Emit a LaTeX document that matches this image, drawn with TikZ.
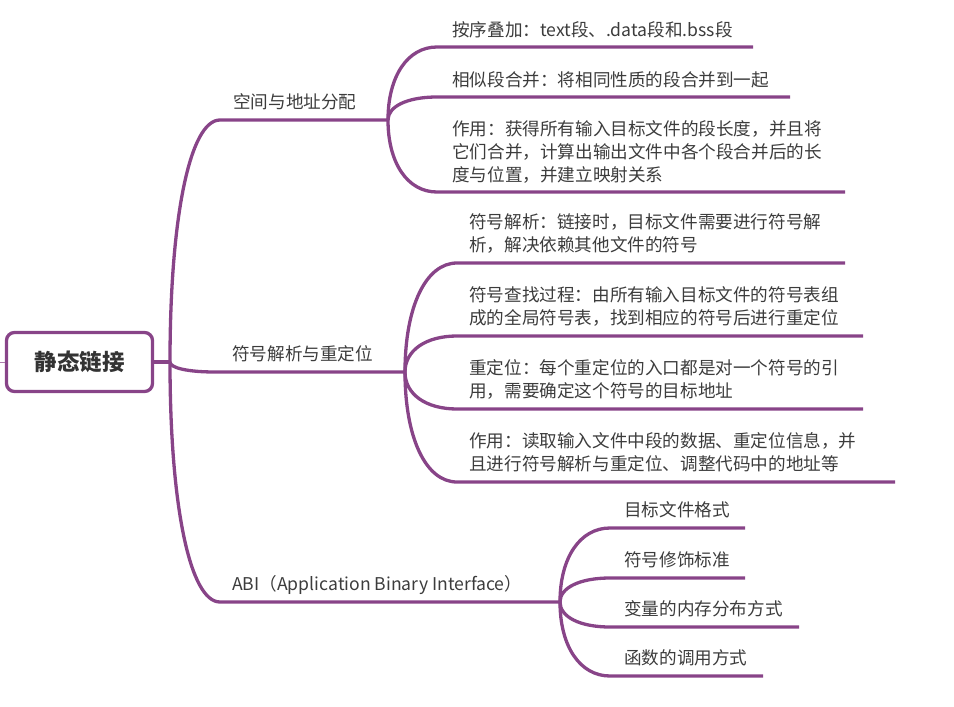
\documentclass[tikz,border=0pt]{standalone}
\usepackage{fontspec}
\setmainfont{Noto Sans CJK SC}
\usetikzlibrary{calc}
\definecolor{mapline}{RGB}{136,68,136}
\definecolor{maptext}{RGB}{60,60,60}
\tikzset{
  edge/.style={draw=mapline, line width=3.3pt},
  link/.style={to path={.. controls ($(\tikztostart)!0.6!(\tikztostart|-\tikztotarget)$) and ($(\tikztotarget)!0.6!(\tikztotarget-|\tikztostart)$) .. (\tikztotarget)}},
  topic/.style={anchor=base west, inner sep=0pt, align=left, text=maptext, font=\fontsize{17.6}{23}\selectfont},
  rootbox/.style={draw=mapline, line width=3.3pt, rounded corners=8pt, minimum width=146pt, minimum height=59pt, inner sep=0pt, text=black!80, font=\fontsize{22.5}{26}\selectfont\bfseries}
}
\begin{document}
\begin{tikzpicture}[x=1pt,y=-1pt]
\useasboundingbox (0,0) rectangle (954,707);
% root
\node[rootbox] (root) at (79.5,362) {静态链接};
\coordinate (stub) at (0,362);
\coordinate (hub) at (170,362);
\draw[draw=mapline!70, line width=1pt] (stub) -- (root.west);
\draw[edge] (root.east) -- (hub);
% main branches
\node[topic] (b1) at (233,108) {空间与地址分配};
\node[topic] (b2) at (232,360) {符号解析与重定位};
\node[topic] (b3) at (232,590) {ABI（Application Binary Interface）};
\coordinate (u1) at (220,120);  \coordinate (fork1) at (388,120);
\coordinate (u2) at (215,372);  \coordinate (fork2) at (405,372);
\coordinate (u3) at (220,602);  \coordinate (fork3) at (560,602);
\draw[edge] (hub) to[link] (u1) -- (fork1);
\draw[edge] (hub) to[link] (u2) -- (fork2);
\draw[edge] (hub) to[link] (u3) -- (fork3);
% space and address
\node[topic] (l11) at (452,36) {按序叠加：text段、.data段和.bss段};
\node[topic] (l12) at (452,86) {相似段合并：将相同性质的段合并到一起};
\node[topic] (l13) at (452,181) {作用：获得所有输入目标文件的段长度，并且将\\它们合并，计算出输出文件中各个段合并后的长\\度与位置，并建立映射关系};
\coordinate (u11) at (437,47);  \coordinate (e11) at (753,47);
\coordinate (u12) at (437,97);  \coordinate (e12) at (790,97);
\coordinate (u13) at (437,192); \coordinate (e13) at (845,192);
\draw[edge] (fork1) to[link] (u11) -- (e11);
\draw[edge] (fork1) to[link] (u12) -- (e12);
\draw[edge] (fork1) to[link] (u13) -- (e13);
% symbols and relocation
\node[topic] (l21) at (469,251) {符号解析：链接时，目标文件需要进行符号解\\析，解决依赖其他文件的符号};
\node[topic] (l22) at (469,324) {符号查找过程：由所有输入目标文件的符号表组\\成的全局符号表，找到相应的符号后进行重定位};
\node[topic] (l23) at (469,397) {重定位：每个重定位的入口都是对一个符号的引\\用，需要确定这个符号的目标地址};
\node[topic] (l24) at (469,470) {作用：读取输入文件中段的数据、重定位信息，并\\且进行符号解析与重定位、调整代码中的地址等};
\coordinate (u21) at (457,263); \coordinate (e21) at (845,263);
\coordinate (u22) at (457,336); \coordinate (e22) at (863,336);
\coordinate (u23) at (457,409); \coordinate (e23) at (863,409);
\coordinate (u24) at (457,482); \coordinate (e24) at (895,482);
\draw[edge] (fork2) to[link] (u21) -- (e21);
\draw[edge] (fork2) to[link] (u22) -- (e22);
\draw[edge] (fork2) to[link] (u23) -- (e23);
\draw[edge] (fork2) to[link] (u24) -- (e24);
% ABI
\node[topic] (l31) at (624,516) {目标文件格式};
\node[topic] (l32) at (624,566) {符号修饰标准};
\node[topic] (l33) at (624,615) {变量的内存分布方式};
\node[topic] (l34) at (624,664) {函数的调用方式};
\coordinate (u31) at (610,528); \coordinate (e31) at (745,528);
\coordinate (u32) at (610,578); \coordinate (e32) at (745,578);
\coordinate (u33) at (610,627); \coordinate (e33) at (799,627);
\coordinate (u34) at (610,676); \coordinate (e34) at (763,676);
\draw[edge] (fork3) to[link] (u31) -- (e31);
\draw[edge] (fork3) to[link] (u32) -- (e32);
\draw[edge] (fork3) to[link] (u33) -- (e33);
\draw[edge] (fork3) to[link] (u34) -- (e34);
\end{tikzpicture}
\end{document}
